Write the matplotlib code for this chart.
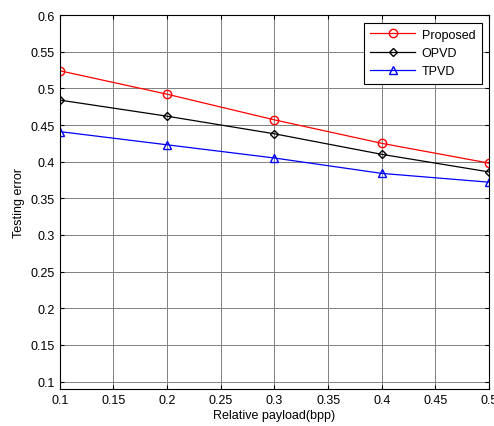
import matplotlib
matplotlib.use('Agg')
import matplotlib.pyplot as plt

plt.rcParams['font.family'] = ['Liberation Sans', 'DejaVu Sans']

payload = [0.1, 0.2, 0.3, 0.4, 0.5]
proposed = [0.524, 0.492, 0.457, 0.425, 0.398]
opvd = [0.484, 0.462, 0.438, 0.410, 0.386]
tpvd = [0.441, 0.423, 0.405, 0.384, 0.372]

fig = plt.figure(figsize=(4.94, 4.27), dpi=100)
ax = fig.add_axes([0.121, 0.0867, 0.869, 0.8758])

ax.plot(payload, proposed, color='red', marker='o', markersize=6,
        markerfacecolor='none', linewidth=0.9, label='Proposed')
ax.plot(payload, opvd, color='black', marker='D', markersize=4.5,
        markerfacecolor='none', linewidth=0.9, label='OPVD')
ax.plot(payload, tpvd, color='blue', marker='^', markersize=6,
        markerfacecolor='none', linewidth=0.9, label='TPVD')

ax.set_xlim(0.1, 0.5)
ax.set_ylim(0.09, 0.6)
ax.set_xticks([0.1, 0.15, 0.2, 0.25, 0.3, 0.35, 0.4, 0.45, 0.5])
ax.set_xticklabels(['0.1', '0.15', '0.2', '0.25', '0.3', '0.35', '0.4', '0.45', '0.5'])
ax.set_yticks([0.1, 0.15, 0.2, 0.25, 0.3, 0.35, 0.4, 0.45, 0.5, 0.55, 0.6])
ax.set_yticklabels(['0.1', '0.15', '0.2', '0.25', '0.3', '0.35', '0.4', '0.45', '0.5', '0.55', '0.6'])
ax.tick_params(direction='in', top=True, right=True, labelsize=9, length=3)
ax.grid(True, color='#808080', linewidth=0.7, linestyle='-')

ax.set_xlabel('Relative payload(bpp)', fontsize=9, labelpad=2)
ax.set_ylabel('Testing error', fontsize=9)

leg = ax.legend(loc='upper right', fontsize=9, fancybox=False, framealpha=1,
                edgecolor='black', borderaxespad=0.6, handlelength=3.6,
                handletextpad=0.5, borderpad=0.5)
leg.get_frame().set_linewidth(0.8)

fig.savefig('out.png', dpi=100)
